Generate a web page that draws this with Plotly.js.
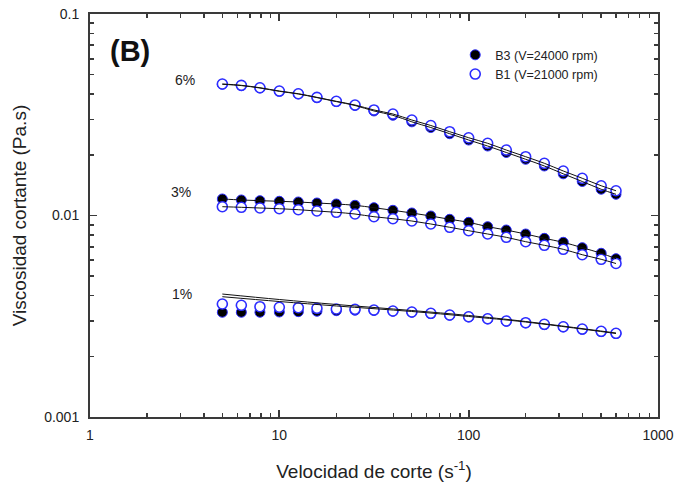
<!DOCTYPE html>
<html>
<head>
<meta charset="utf-8">
<script src="https://cdn.plot.ly/plotly-3.0.1.min.js"></script>
<style>html,body{margin:0;padding:0;background:#fff;}#chart{width:678px;height:489px;}</style>
</head>
<body>
<div id="chart"></div>
<script>
// Shear rate (s^-1)
const shearRate = [5, 6.3, 7.9, 10, 12.6, 15.8, 20, 25.1, 31.6, 39.8, 50.1, 63.1, 79.4, 100, 126, 158, 200, 251, 316, 398, 501, 600];

// B3 (V=24000 rpm) - filled markers
const b3_6 = [0.04479, 0.04413, 0.04292, 0.04133, 0.04009, 0.03846, 0.03675, 0.03515, 0.03302, 0.03143, 0.02917, 0.02733, 0.02547, 0.02369, 0.02212, 0.02055, 0.01901, 0.01761, 0.01610, 0.01475, 0.01350, 0.01274];
const b3_3 = [0.012078, 0.011940, 0.011844, 0.011764, 0.011670, 0.011535, 0.011405, 0.011236, 0.010932, 0.010612, 0.010290, 0.009943, 0.009575, 0.009252, 0.008799, 0.008472, 0.008094, 0.007704, 0.007362, 0.006922, 0.006494, 0.006104];
const b3_1 = [0.003309, 0.003309, 0.003309, 0.003320, 0.003332, 0.003347, 0.003370, 0.003385, 0.003377, 0.003347, 0.003309, 0.003259, 0.003197, 0.003134, 0.003064, 0.002985, 0.002928, 0.002872, 0.002796, 0.002723, 0.002652, 0.002593];

// B1 (V=21000 rpm) - open markers
const b1_6 = [0.04494, 0.04426, 0.04306, 0.04147, 0.04021, 0.03859, 0.03687, 0.03535, 0.03340, 0.03190, 0.02978, 0.02797, 0.02605, 0.02432, 0.02282, 0.02113, 0.01958, 0.01816, 0.01663, 0.01530, 0.01405, 0.01327];
const b1_3 = [0.011058, 0.010982, 0.010894, 0.010807, 0.010685, 0.010527, 0.010373, 0.010172, 0.009863, 0.009641, 0.009391, 0.009075, 0.008740, 0.008406, 0.008094, 0.007794, 0.007413, 0.007114, 0.006796, 0.006389, 0.006062, 0.005778];
const b1_1 = [0.003638, 0.003584, 0.003527, 0.003503, 0.003487, 0.003463, 0.003436, 0.003424, 0.003396, 0.003358, 0.003320, 0.003271, 0.003208, 0.003145, 0.003074, 0.002995, 0.002938, 0.002884, 0.002805, 0.002732, 0.002662, 0.002602];

// Model fit lines for 1% (power-law-like)
const fitRate1 = [5, 10, 20, 50, 100, 200, 600];
const fitB3_1 = [0.004076, 0.003829, 0.003617, 0.003377, 0.003190, 0.002978, 0.002611];
const fitB1_1 = [0.003954, 0.003742, 0.003556, 0.003340, 0.003154, 0.002961, 0.002596];

const seriesNames = ['B3 (V=24000 rpm)', 'B1 (V=21000 rpm)'];
const concLabels = ['6%', '3%', '1%'];
const xTickVals = [1, 10, 100, 1000];
const xTickText = ['1', '10', '100', '1000'];
const yTickVals = [0.001, 0.01, 0.1];
const yTickText = ['0.001', '0.01', '0.1'];

const FONT = 'Arial, "Liberation Sans", sans-serif';
const BLUE = 'rgb(45,45,255)';
const AX = '#3a3a3a';

const traces = [];
function markerTrace(y, filled, name, show) {
  return {
    x: shearRate, y: y, type: 'scatter', mode: 'markers', name: name,
    legendgroup: name, showlegend: show,
    marker: filled
      ? {symbol: 'circle', size: 10, color: '#000000', line: {color: BLUE, width: 1}}
      : {symbol: 'circle', size: 10, color: '#ffffff', line: {color: BLUE, width: 1.6}},
    hoverinfo: 'x+y'
  };
}
[b3_6, b3_3, b3_1].forEach((y, i) => traces.push(markerTrace(y, true, seriesNames[0], i === 0)));
[b1_6, b1_3, b1_1].forEach((y, i) => traces.push(markerTrace(y, false, seriesNames[1], i === 0)));

function lineTrace(x, y) {
  return {x: x, y: y, type: 'scatter', mode: 'lines', showlegend: false,
    line: {color: '#111111', width: 1, shape: 'spline', smoothing: 1}, hoverinfo: 'skip'};
}
[b3_6, b1_6, b3_3, b1_3].forEach(y => traces.push(lineTrace(shearRate, y)));
traces.push(lineTrace(fitRate1, fitB3_1));
traces.push(lineTrace(fitRate1, fitB1_1));

const baseAxis = {
  type: 'log', showgrid: false, zeroline: false,
  showline: true, linecolor: AX, linewidth: 2, mirror: 'ticks',
  ticks: 'inside', ticklen: 7, tickwidth: 1.8, tickcolor: AX,
  tickfont: {family: FONT, size: 14, color: '#222'},
  minor: {dtick: 'D1', ticks: 'inside', ticklen: 4, tickwidth: 1.6, tickcolor: AX, showgrid: false}
};

const layout = {
  width: 678, height: 489,
  margin: {l: 90, r: 20, t: 14, b: 72},
  paper_bgcolor: '#ffffff', plot_bgcolor: '#ffffff',
  font: {family: FONT, color: '#222'},
  showlegend: true,
  legend: {x: 0.643, y: 0.935, xanchor: 'left', yanchor: 'top', bgcolor: 'rgba(0,0,0,0)',
    font: {family: FONT, size: 12.5, color: '#222'}, traceorder: 'normal', tracegroupgap: 0},
  xaxis: Object.assign({}, baseAxis, {
    range: [0, 3], tickmode: 'array', tickvals: xTickVals, ticktext: xTickText, ticklabelstandoff: 4,
    title: {text: 'Velocidad de corte (s<sup>-1</sup>)', font: {family: FONT, size: 19, color: '#222'}, standoff: 23}
  }),
  yaxis: Object.assign({}, baseAxis, {
    range: [-3, -1], tickmode: 'array', tickvals: yTickVals, ticktext: yTickText, ticklabelstandoff: 6,
    title: {text: 'Viscosidad cortante (Pa.s)', font: {family: FONT, size: 19, color: '#222'}, standoff: 13}
  }),
  annotations: [
    {text: '<b>(B)</b>', xref: 'paper', yref: 'paper', x: 0.0704, y: 0.908, showarrow: false,
      font: {family: FONT, size: 29, color: '#111'}, xanchor: 'center', yanchor: 'middle'},
    {text: concLabels[0], xref: 'paper', yref: 'paper', x: 0.167, y: 0.836, showarrow: false,
      font: {family: FONT, size: 14, color: '#222'}, xanchor: 'center', yanchor: 'middle'},
    {text: concLabels[1], xref: 'paper', yref: 'paper', x: 0.161, y: 0.558, showarrow: false,
      font: {family: FONT, size: 14, color: '#222'}, xanchor: 'center', yanchor: 'middle'},
    {text: concLabels[2], xref: 'paper', yref: 'paper', x: 0.162, y: 0.305, showarrow: false,
      font: {family: FONT, size: 14, color: '#222'}, xanchor: 'center', yanchor: 'middle'}
  ]
};

Plotly.newPlot('chart', traces, layout, {displayModeBar: false, staticPlot: true});
</script>
</body>
</html>
